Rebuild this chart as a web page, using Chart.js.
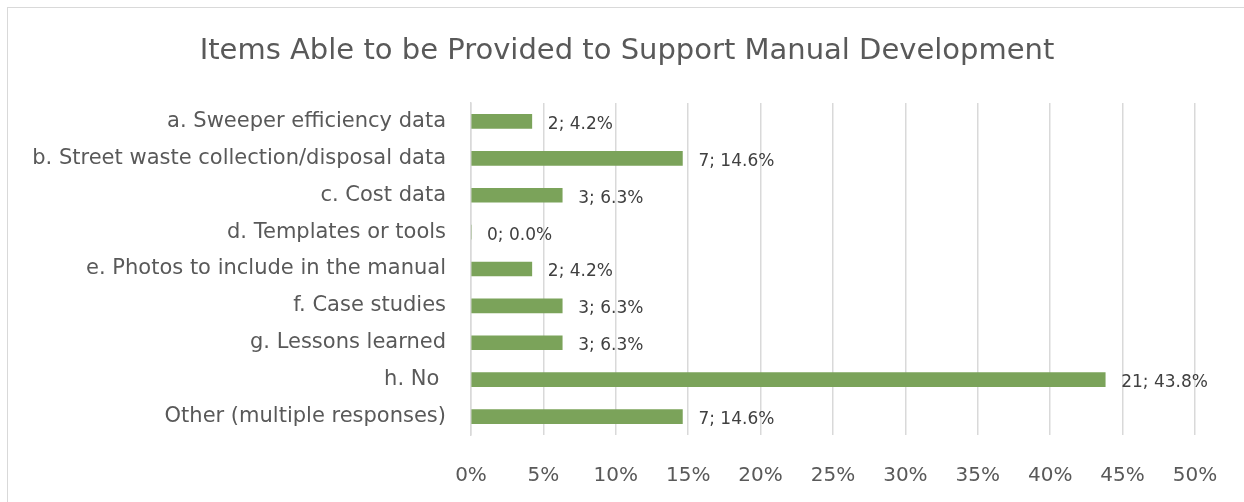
<!DOCTYPE html>
<html>
<head>
<meta charset="utf-8">
<script src="https://cdn.jsdelivr.net/npm/chart.js@4"></script>
<style>
	html, body { margin: 0; padding: 0; background: #fff; }
	#wrap { position: relative; width: 1244px; height: 502px; overflow: hidden; }
	#frame { position: absolute; left: 7px; top: 7px; width: 1300px; height: 600px; border: 1.5px solid #d9d9d9; box-sizing: border-box; }
	canvas { position: absolute; left: 0; top: 0; }
</style>
</head>
<body>
<div id="wrap">
	<div id="frame"></div>
	<canvas id="chart" width="1244" height="502"></canvas>
</div>
<script>
const title = 'Items Able to be Provided to Support Manual Development';
const categories = [
	'a. Sweeper efficiency data',
	'b. Street waste collection/disposal data',
	'c. Cost data',
	'd. Templates or tools',
	'e. Photos to include in the manual',
	'f. Case studies',
	'g. Lessons learned',
	'h. No ',
	'Other (multiple responses)'
];
const counts = [2, 7, 3, 0, 2, 3, 3, 21, 7];
const percents = [4.2, 14.6, 6.3, 0.0, 4.2, 6.3, 6.3, 43.8, 14.6];
const xTicks = [0, 5, 10, 15, 20, 25, 30, 35, 40, 45, 50];

const fontFamily = "'DejaVu Sans', sans-serif";

// draws "count; pct%" after each bar end
const barLabels = {
	id: 'barLabels',
	afterDatasetsDraw(chart){
		let ctx = chart.ctx;
		let meta = chart.getDatasetMeta(0);
		ctx.save();
		ctx.font = '17px ' + fontFamily;
		ctx.fillStyle = '#404040';
		ctx.textAlign = 'left';
		ctx.textBaseline = 'middle';
		meta.data.forEach((bar, i) => {
			let text = counts[i] + '; ' + percents[i].toFixed(1) + '%';
			ctx.fillText(text, bar.x + 16, bar.y + 3);
		});
		ctx.restore();
	}
};

// title centred on the outer frame rather than the padded layout box
const frameTitle = {
	id: 'frameTitle',
	afterDraw(chart){
		let ctx = chart.ctx;
		ctx.save();
		ctx.font = '29px ' + fontFamily;
		ctx.fillStyle = '#595959';
		ctx.textAlign = 'center';
		ctx.textBaseline = 'middle';
		ctx.fillText(title, chart.width / 2 + 5, 51);
		ctx.restore();
	}
};

new Chart(document.getElementById('chart'), {
	type: 'bar',
	data: {
		labels: categories,
		datasets: [{
			data: percents,
			backgroundColor: '#7ba35a',
			borderWidth: 0,
			barThickness: 14
		}]
	},
	plugins: [barLabels, frameTitle],
	options: {
		indexAxis: 'y',
		responsive: false,
		animation: false,
		layout: { padding: { left: 0, right: 49, top: 103, bottom: 14 } },
		plugins: {
			legend: { display: false },
			tooltip: { enabled: false },
			title: { display: false }
		},
		scales: {
			x: {
				min: 0,
				max: 50,
				afterBuildTicks(axis){
					axis.ticks = xTicks.map(v => ({ value: v }));
				},
				afterFit(axis){
					axis.height = 53;
					axis.paddingLeft = 0;
					axis.paddingRight = 0;
				},
				ticks: {
					color: '#595959',
					font: { family: fontFamily, size: 20, lineHeight: 1.2 },
					padding: 29,
					maxRotation: 0,
					callback: v => v + '%'
				},
				grid: { color: '#d9d9d9', lineWidth: 1.5, drawTicks: false },
				border: { display: false }
			},
			y: {
				afterFit(axis){ axis.width = 471; },
				ticks: {
					color: '#595959',
					font: { family: fontFamily, size: 21, lineHeight: 1.2 },
					padding: 25
				},
				grid: { display: false, drawTicks: false },
				border: { display: true, color: '#d9d9d9', width: 1.5 }
			}
		}
	}
});
</script>
</body>
</html>
